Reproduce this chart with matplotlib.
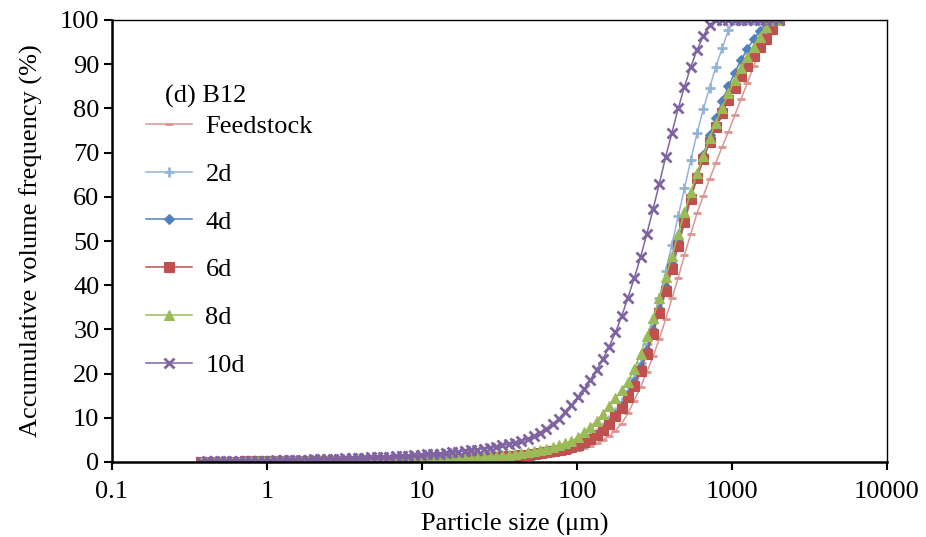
import matplotlib
matplotlib.use('Agg')
import matplotlib.pyplot as plt

plt.rcParams['font.family'] = ['Liberation Serif', 'DejaVu Serif']

# laser diffraction size classes (um)
sizes = [
    0.375, 0.412, 0.452, 0.496, 0.545, 0.598, 0.657, 0.721, 0.791, 0.869,
    0.953, 1.047, 1.149, 1.261, 1.385, 1.520, 1.669, 1.832, 2.011, 2.208,
    2.423, 2.660, 2.920, 3.206, 3.519, 3.863, 4.241, 4.656, 5.111, 5.611,
    6.159, 6.761, 7.422, 8.148, 8.944, 9.819, 10.78, 11.83, 12.99, 14.26,
    15.65, 17.18, 18.86, 20.71, 22.73, 24.95, 27.39, 30.07, 33.01, 36.24,
    39.78, 43.67, 47.94, 52.62, 57.77, 63.41, 69.61, 76.42, 83.89, 92.09,
    101.1, 111.0, 121.8, 133.7, 146.8, 161.2, 176.9, 194.2, 213.2, 234.1,
    256.9, 282.1, 309.6, 339.9, 373.1, 409.6, 449.7, 493.6, 541.9, 594.9,
    653.0, 716.9, 786.9, 863.9, 948.3, 1041, 1143, 1255, 1377, 1512,
    1660, 1822, 2000,
]

# accumulative volume (%) per sample
feedstock = [
    0.04, 0.05, 0.06, 0.07, 0.08, 0.09, 0.10, 0.11, 0.12, 0.13,
    0.14, 0.15, 0.16, 0.17, 0.18, 0.19, 0.20, 0.21, 0.22, 0.23,
    0.24, 0.25, 0.26, 0.27, 0.28, 0.29, 0.30, 0.32, 0.34, 0.36,
    0.38, 0.40, 0.42, 0.44, 0.46, 0.48, 0.50, 0.53, 0.56, 0.59,
    0.62, 0.66, 0.70, 0.74, 0.78, 0.83, 0.88, 0.94, 1.00, 1.07,
    1.15, 1.24, 1.34, 1.45, 1.57, 1.71, 1.87, 2.05, 2.26, 2.50,
    2.8, 3.2, 3.7, 4.3, 5.0, 5.9, 7.1, 8.7, 11.0, 13.9,
    17.0, 20.3, 23.9, 27.9, 32.3, 37.0, 41.7, 46.8, 51.6, 56.3,
    60.2, 64.0, 67.7, 71.3, 74.7, 78.4, 82.1, 85.7, 89.5, 93.2,
    96.8, 99.6, 100,
]
day2 = [
    0.05, 0.06, 0.07, 0.08, 0.09, 0.10, 0.11, 0.12, 0.13, 0.14,
    0.15, 0.16, 0.17, 0.18, 0.19, 0.20, 0.21, 0.22, 0.23, 0.24,
    0.25, 0.26, 0.27, 0.29, 0.31, 0.33, 0.35, 0.37, 0.39, 0.41,
    0.43, 0.45, 0.47, 0.50, 0.53, 0.56, 0.59, 0.62, 0.66, 0.70,
    0.74, 0.78, 0.83, 0.88, 0.94, 1.00, 1.07, 1.15, 1.24, 1.34,
    1.45, 1.57, 1.70, 1.85, 2.02, 2.21, 2.43, 2.69, 3.00, 3.40,
    4.0, 4.7, 5.6, 6.6, 7.9, 9.4, 11.3, 13.5, 16.0, 18.9,
    22.5, 26.8, 31.7, 37.2, 43.1, 49.2, 55.6, 61.9, 68.3, 74.4,
    79.8, 84.7, 89.4, 93.6, 97.7, 100, 100, 100, 100, 100,
    100, 100, 100,
]
day4 = [
    0.04, 0.05, 0.06, 0.07, 0.08, 0.09, 0.10, 0.11, 0.12, 0.13,
    0.14, 0.15, 0.16, 0.17, 0.18, 0.19, 0.20, 0.21, 0.22, 0.23,
    0.24, 0.25, 0.26, 0.27, 0.28, 0.30, 0.32, 0.34, 0.36, 0.38,
    0.40, 0.42, 0.44, 0.46, 0.48, 0.50, 0.52, 0.55, 0.58, 0.62,
    0.66, 0.70, 0.74, 0.79, 0.85, 0.91, 0.98, 1.05, 1.13, 1.22,
    1.32, 1.43, 1.55, 1.69, 1.85, 2.03, 2.24, 2.48, 2.76, 3.10,
    3.6, 4.3, 5.1, 6.1, 7.3, 8.8, 10.6, 12.7, 15.2, 18.1,
    21.5, 25.4, 29.8, 34.6, 39.6, 44.8, 50.0, 55.2, 60.2, 65.0,
    69.5, 73.9, 77.9, 81.6, 85.0, 88.1, 90.9, 93.4, 95.6, 97.5,
    99.1, 100, 100,
]
day6 = [
    0.05, 0.06, 0.07, 0.08, 0.09, 0.10, 0.11, 0.12, 0.13, 0.14,
    0.15, 0.16, 0.17, 0.18, 0.19, 0.20, 0.21, 0.22, 0.23, 0.24,
    0.25, 0.26, 0.27, 0.28, 0.30, 0.32, 0.34, 0.36, 0.38, 0.40,
    0.42, 0.44, 0.46, 0.48, 0.50, 0.52, 0.55, 0.58, 0.61, 0.65,
    0.69, 0.73, 0.78, 0.83, 0.89, 0.95, 1.02, 1.10, 1.19, 1.29,
    1.40, 1.52, 1.65, 1.80, 1.97, 2.16, 2.38, 2.64, 2.94, 3.35,
    3.85, 4.45, 5.2, 6.1, 7.2, 8.6, 10.3, 12.3, 14.6, 17.3,
    20.6, 24.5, 29.0, 33.8, 38.6, 43.6, 48.8, 54.2, 59.5, 64.2,
    68.5, 72.3, 75.8, 78.9, 81.9, 84.7, 87.3, 89.6, 91.8, 93.8,
    95.8, 97.9, 100,
]
day8 = [
    0.05, 0.06, 0.07, 0.08, 0.09, 0.10, 0.11, 0.12, 0.13, 0.14,
    0.15, 0.16, 0.17, 0.18, 0.19, 0.20, 0.21, 0.22, 0.23, 0.24,
    0.25, 0.26, 0.28, 0.30, 0.32, 0.34, 0.36, 0.38, 0.40, 0.42,
    0.44, 0.46, 0.49, 0.52, 0.55, 0.58, 0.62, 0.66, 0.70, 0.75,
    0.80, 0.86, 0.92, 0.99, 1.07, 1.16, 1.26, 1.37, 1.49, 1.62,
    1.80, 2.00, 2.22, 2.46, 2.72, 3.02, 3.36, 3.75, 4.20, 4.75,
    5.6, 6.8, 8.0, 9.3, 10.9, 12.6, 14.5, 16.3, 18.2, 21.0,
    24.5, 28.4, 32.5, 37.2, 41.8, 46.6, 51.6, 56.5, 61.0, 65.3,
    69.3, 73.2, 76.8, 80.2, 83.4, 86.4, 89.1, 91.6, 94.0, 96.2,
    98.5, 100, 100,
]
day10 = [
    0.10, 0.12, 0.14, 0.16, 0.18, 0.20, 0.22, 0.24, 0.26, 0.28,
    0.30, 0.33, 0.36, 0.39, 0.42, 0.45, 0.49, 0.53, 0.57, 0.61,
    0.65, 0.70, 0.75, 0.80, 0.85, 0.91, 0.97, 1.03, 1.09, 1.15,
    1.22, 1.29, 1.36, 1.44, 1.52, 1.61, 1.70, 1.80, 1.91, 2.03,
    2.16, 2.30, 2.46, 2.63, 2.82, 3.03, 3.26, 3.50, 3.76, 4.05,
    4.37, 4.74, 5.20, 5.80, 6.60, 7.55, 8.60, 9.80, 11.2, 12.8,
    14.6, 16.5, 18.6, 20.8, 23.3, 26.1, 29.3, 33.0, 37.2, 41.6,
    46.3, 51.6, 57.2, 63.0, 69.0, 74.5, 80.0, 84.9, 89.4, 93.2,
    96.4, 98.9, 100, 100, 100, 100, 100, 100, 100, 100,
    100, 100, 100,
]

labels = ['Feedstock', '2d', '4d', '6d', '8d', '10d']
colors = ['#D99694', '#95B3D7', '#4F81BD', '#C0504D', '#9BBB59', '#8064A2']
markers = ['_', '+', 'D', 's', '^', 'x']
msizes = [5.5, 7.5, 5.5, 7.0, 7.5, 7.0]
series = [feedstock, day2, day4, day6, day8, day10]

FS = 19

fig = plt.figure(figsize=(9.26, 5.37), dpi=100)
ax = fig.add_axes([112 / 926, 1 - 462 / 537, 775 / 926, 442 / 537])

for vals, lab, col, mk, ms in zip(series, labels, colors, markers, msizes):
    ax.plot(sizes, vals, color=col, lw=1.1, marker=mk, ms=ms,
            mfc=col, mec=col, mew=2.0 if mk in '_+x' else 0.8, label=lab)

ax.set_xscale('log')
ax.set_xlim(0.1, 10000)
ax.set_ylim(0, 100)
ax.set_xticks([0.1, 1, 10, 100, 1000, 10000])
ax.set_xticklabels(['0.1', '1', '10', '100', '1000', '10000'])
ax.xaxis.set_minor_locator(matplotlib.ticker.NullLocator())
ax.set_yticks(range(0, 101, 10))

for side in ['left', 'bottom']:
    ax.spines[side].set_linewidth(1.8)
for side in ['top', 'right']:
    ax.spines[side].set_linewidth(1.0)

ax.tick_params(axis='both', which='major', direction='out', length=6,
               width=1.5, labelsize=FS, colors='black')
ax.tick_params(axis='x', pad=8)
ax.tick_params(axis='y', pad=3)

ax.set_xlabel('Particle size (μm)', fontsize=FS, labelpad=1)
ax.xaxis.set_label_coords(0.52, -0.115)
ax.set_ylabel('Accumulative volume frequency (%)', fontsize=FS, labelpad=12)

ax.text(0.068, 0.828, '(d) B12', transform=ax.transAxes, fontsize=FS,
        va='center', ha='left')
ax.legend(loc='upper left', bbox_to_anchor=(0.044, 0.786), frameon=False,
          fontsize=FS, labelspacing=0.92, handlelength=1.75,
          handletextpad=0.5, borderpad=0, borderaxespad=0)

fig.savefig('out.png', dpi=100)
